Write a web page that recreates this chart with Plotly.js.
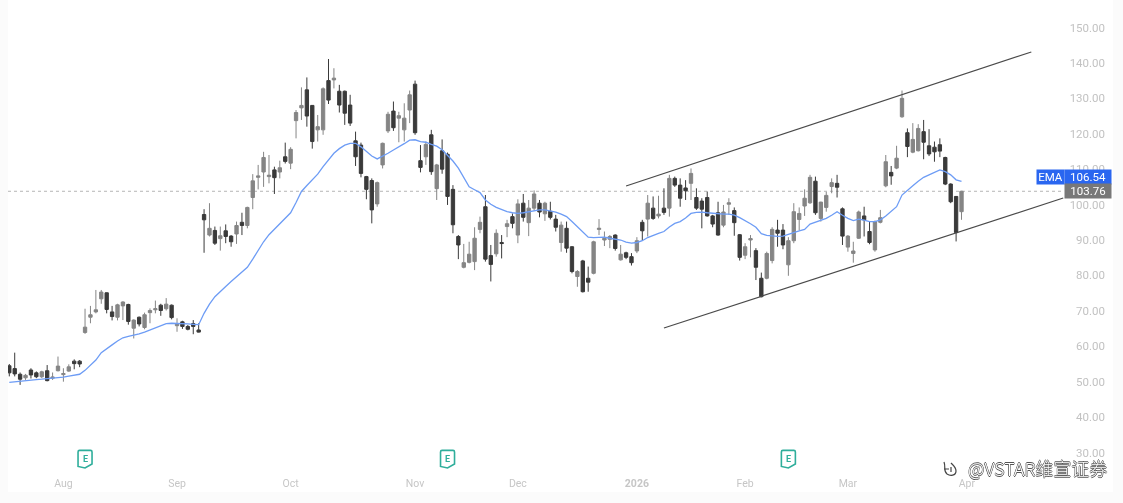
<!DOCTYPE html>
<html><head><meta charset="utf-8">
<script src="https://cdn.plot.ly/plotly-3.0.1.min.js"></script>
<style>html,body{margin:0;padding:0;background:#fbfbfb}#c{width:1123px;height:503px;filter:blur(0.35px)}</style>
</head><body><div id="c"></div>
<script>
const opens=[54.5,53.7,52.1,51.1,53.3,52.5,51.4,53.1,51,53.1,52,53,55.8,55.8,63.9,68.2,69.7,73.4,75.1,69.7,68.2,71.4,71.8,65.1,68.2,65.3,69.5,70.3,71.6,70.6,71.6,65.8,66.9,65.6,66.4,64.6,
97.2,91.4,92.7,90.4,92.6,91.1,91.7,95,94.1,102,107.7,109.2,107.9,109.8,109.2,113.5,111.7,123.7,127.3,132.4,128,121.1,121.1,135,135.2,132,132,128.1,118,116.8,107.9,106.8,100.2,111.2,120.8,126.4,124.4,121.1,126.7,134,112.4,113.5,119.7,104.5,115.2,114.2,104.3,91,
82.3,83.7,83.9,93,99.4,85.6,86.1,89.3,93.8,96.6,91.4,100.4,94.9,99,100.4,97.4,98.1,95.9,89.3,93.3,88.1,79.7,84.1,79.2,80.6,93,90,90.2,91.4,84.4,86.4,85.3,86.9,95,95.9,99,96.8,99,99,107.4,105.5,
104.7,106,102,101,102,96.8,97.7,94.2,100.1,98.3,91.5,85.7,90,87,79.2,79.2,84.2,92.8,92.8,83,89.8,95.8,99.6,100.5,106.6,96.1,99.2,105.1,106,98.8,88,86.2,90.5,96.8,92.4,87.2,95,105.3,109.1,110.3,124.8,120.3,114.8,115.2,120.6,116.6,116.2,116.9,113.3,105.8,102.3,98];
const highs=[55,58.2,52.6,52.2,53.8,52.9,53.1,54.7,52.6,57.1,53.8,54.9,56.3,56.1,70.6,71.4,75.9,75.9,75.2,71.4,72,72.7,72,67.6,68.4,69.5,70.7,72.9,72,73.6,71.8,67.9,67.2,66,67.4,66.5,
98.7,100.4,93.8,93.8,94.4,91.4,95.2,97.7,99.4,108.6,111.2,114.9,114,110.7,112.4,117.5,116.2,126.7,133.1,135.9,128.1,125.3,133.1,141.1,138.5,133.8,132.2,131,120.6,117.5,108.1,107.4,106.5,117.5,126.2,129.1,126.2,128.6,132.2,135,116.8,117.8,121.1,111.5,118.4,114.7,105.5,91.4,
88.9,89.5,93.6,96.6,102.7,88.6,93,91.4,95.7,97.5,101.5,103,101.3,104,101.3,100.8,100.8,97.1,95.2,95.2,88.3,81.5,84.4,82.5,89.8,95.9,92.4,91.4,91.6,88.6,86.7,86.3,90.8,95.7,102.7,102.3,102.5,104.6,108.4,107.9,107.4,
106.9,110.2,104.6,101.8,103.7,97.1,100.8,99.9,101.8,99.2,91.7,89.1,91.4,87.7,80.8,86.7,93.6,95.7,94.5,90.8,100.4,99.2,104.3,108.4,107.9,100.8,103.6,107.4,108.4,99.2,91.4,89.5,98.3,99.4,95.2,95.5,98.5,114,110.9,116.6,132.2,121.5,123,122.7,123.9,121.3,117.8,118.7,113.5,106,102.4,103.9];
const lows=[51.5,51.5,49.1,50.5,50.9,51,51,50.1,50.5,52.9,50,52.8,53.5,54.1,63.5,66.5,69.3,72,69.3,67.3,67.3,67.4,66.1,62.2,65.6,64.8,66.5,69.3,68.6,70.1,67.6,64.1,64.9,64.5,63.4,63.9,
86.4,91,88.6,87,89.1,88.1,88.9,91.4,93.3,98.7,104.3,105,106,103,107.4,111.6,110,118.7,123.9,122,115.8,117.8,119.7,128.4,132.8,126,122.5,122.2,110.9,107.7,101.5,94.7,99.4,110.2,120.2,120.8,117.6,117.8,123,119.7,109.1,111.2,108.4,101.3,108.7,99.9,91.9,84.6,
82,83.4,81.5,91.9,83.9,78.3,85.3,84.8,90.8,93.3,89.1,95.2,91.1,98.3,96.4,95.4,95.8,92.4,86.7,86.4,80.6,76.8,75.2,75.4,80.3,91.4,88.3,87.7,87,84.2,84.6,82.8,86.3,89.8,91,95.7,96.1,97.1,96.6,105,99.4,
101.3,101.3,98.5,93.3,96.6,93.6,91.2,93.6,97.1,91.2,84.2,84.6,85.1,78.7,73.8,78.9,83.4,88.1,87.4,79.9,89.1,92.8,96.8,100.2,97.1,95.2,98,103.2,102,88.6,86.7,83.6,90.3,91,88.8,86.7,94.7,104.9,105.6,110,124.5,113.4,114.5,115,112.8,113.7,112.1,113.4,105.5,100.4,89.6,95.7];
const closes=[52.5,52.2,50.7,51.8,51.9,51.4,52.8,50.3,51.3,54.4,52.3,54.2,55.1,55,65.4,68.9,70.3,75.3,70.4,68.4,71.7,72.5,67,67.4,66.3,68.9,70.1,70.6,70.1,71.9,68.1,66.3,65.6,64.8,65.6,64,
95.7,93.3,89.1,91.2,91,89.5,94.1,94.1,99.2,106.7,108.1,113.3,108.3,107.6,110.4,112.2,115.6,126,128,125,117.8,122,132.7,129.5,135.7,128.1,125.8,123,113.5,108.8,104.3,98.5,106.2,117.3,125.5,121.7,125.1,124.4,131,120.3,110.5,117,109.3,111.2,110,102.3,94.3,88.6,
83.6,86,90.5,95,84.6,83.1,91.9,89,94.6,94.7,100.2,96.4,99,103,97.9,100.4,96.4,93.6,94.2,87.7,81.1,81.1,75.4,78.1,89.5,93.3,90.5,91,87.6,86,85.1,83.6,89.8,92.6,100.4,96.1,97.3,97.8,107.4,105.5,101.8,
103.9,108.8,99,98.7,96.8,94.5,91.4,97.9,100.5,94.9,85.1,88.1,90.4,82.3,74,86.2,93,91.9,88.6,89.8,98,97.5,101.8,107.7,97.7,100.7,102.6,106.2,104.9,91.1,91.1,86.9,97.9,95.7,89.3,95.2,96.3,112.1,108.1,113.1,130,116.4,118.4,121.5,117.6,114.3,114.9,115.1,105.8,100.8,92.1,103.76];
const emaValues=[49.8,50,50.2,50.3,50.4,50.6,50.7,50.8,51,51.2,51.3,51.6,51.8,52.1,53.2,54.6,56.1,58.2,59.4,60.4,61.5,62.4,62.8,63.1,63.5,64,64.6,65.2,65.9,66.4,66.5,66.5,66.4,66.3,66.2,66.1,69.3,71.9,74,75.6,76.9,78.3,79.6,81,82.3,84.6,87.1,89.5,91.5,93.1,94.7,
96.2,97.7,100.6,103.7,105.4,107,108.6,110.7,112.6,114.5,115.8,116.8,117.3,117.3,116.3,115,113.7,112.9,113.6,114.5,115.4,116.2,117.2,118.2,118.3,117.8,117.6,117,116.5,115.5,114,112.3,110.3,107.5,105,
104.2,103.4,101.3,100.1,99.2,98.5,98,97.7,97.5,97.7,98,98.3,98.5,98.5,98.3,97.9,97.3,96.6,95.2,93.8,92.2,90.8,90.7,90.8,90.8,90.5,90.3,90,89.4,89.1,89.3,89.8,90.7,91.4,91.9,92.4,93.7,94.7,
95.2,96.2,97.5,97.8,97.9,97.7,97.5,97.4,97.3,97.3,97,96.3,95.5,94.6,93.6,91.8,91.3,91.1,91,91.1,91.5,92.1,92.6,93,94.5,95,95.5,96.1,97,98,97,96.1,95.5,95.9,95.6,95.2,95.2,95.7,96.8,98,99.4,102.7,104.1,105.3,106.6,107.7,108.4,109.1,109.8,109.3,108.4,107,106.54];
const upperChannelX=[114,188.9], upperChannelY=[105.25,143.08];
const lowerChannelX=[121,194.8], lowerChannelY=[65.16,101.86];
const monthIdx=[10,31,52,75,94,116,136,155,177];
const monthLabels=['Aug','Sep','Oct','Nov','Dec','<b>2026</b>','Feb','Mar','Apr'];
const priceTicks=[30,40,50,60,70,80,90,100,110,120,130,140,150];
const earningsIdx=[14,81,144];
const earningsPrice=28.2;
const lastPrice=103.76, lastEma=106.54;

const idx=opens.map((_,i)=>i);
const GREY='#858585', DARK='#3a3a3a', TEAL='#2fae9b', BLUE='#2a66f0';

const traces=[
 {type:'candlestick',x:idx,open:opens,high:highs,low:lows,close:closes,whiskerwidth:0,
  increasing:{line:{color:GREY,width:1},fillcolor:GREY},
  decreasing:{line:{color:DARK,width:1},fillcolor:DARK},hoverinfo:'skip',showlegend:false},
 {type:'scatter',mode:'lines',x:idx,y:emaValues,line:{color:'#6d9cf5',width:1.3},hoverinfo:'skip',showlegend:false},
 {type:'scatter',mode:'lines',x:upperChannelX,y:upperChannelY,line:{color:'#4a4a4a',width:1.2},hoverinfo:'skip',showlegend:false},
 {type:'scatter',mode:'lines',x:lowerChannelX,y:lowerChannelY,line:{color:'#4a4a4a',width:1.2},hoverinfo:'skip',showlegend:false}
];

const shapes=[
 {type:'line',xref:'paper',x0:0,x1:0.955,yref:'y',y0:lastPrice,y1:lastPrice,line:{color:'#b5b5b5',width:1,dash:'dot'},layer:'below'}
];
const annotations=[];
earningsIdx.forEach(i=>{
 shapes.push({type:'path',xref:'x',yref:'y',xsizemode:'pixel',ysizemode:'pixel',xanchor:i,yanchor:earningsPrice,
   path:'M -7,-7.5 L -7,7 Q -7,8.5 -5.5,8.5 L 5.5,8.5 Q 7,8.5 7,7 L 7,-5 L 0,-9 Z',
   line:{color:TEAL,width:1.6},fillcolor:'#ffffff'});
 annotations.push({x:i,y:earningsPrice,xref:'x',yref:'y',text:'<b>E</b>',showarrow:false,yshift:0,
   font:{family:'Roboto',size:9,color:TEAL}});
});
const tag=(x,y,w,h,txt,bg)=>({xref:'paper',yref:'paper',x:(x-8)/1105,y:1-y/492,xanchor:'left',yanchor:'middle',
  width:w,height:h,text:txt,showarrow:false,bgcolor:bg,borderpad:0,align:'center',font:{family:'Roboto',size:11.5,color:'#ffffff'}});
annotations.push(tag(1036,176.5,27,14,'EMA',BLUE));
annotations.push(tag(1064,176.5,46,14,lastEma.toFixed(2),BLUE));
annotations.push(tag(1064,191,46,14,lastPrice.toFixed(2),'#787878'));
annotations.push({xref:'paper',yref:'paper',x:(1109-8)/1105,y:1-468/492,xanchor:'right',yanchor:'middle',showarrow:false,
  text:'@VSTAR维宣证券',font:{family:'Noto Sans CJK SC',size:18,color:'#ffffff',weight:300,shadow:'0.6px 0 0 #555,-0.6px 0 0 #555,0 0.6px 0 #555,0 -0.6px 0 #555'}});
shapes.push({type:'path',xref:'paper',yref:'paper',xsizemode:'pixel',ysizemode:'pixel',xanchor:(950-8)/1105,yanchor:1-469/492,
  path:'M -6,7 C -4,2 -7,-2 -3,-5 C 0,-7 6,-7 6,-2 C 6,2 3,4 1,6 M -6,0 L -1,0 M 1,-3 L 1,2',line:{color:'#444',width:1.2},fillcolor:'rgba(0,0,0,0)'});

const layout={
 width:1123,height:503,margin:{l:8,r:10,t:0,b:11},
 paper_bgcolor:'#fbfbfb',plot_bgcolor:'#ffffff',hovermode:false,showlegend:false,boxgap:0.12,
 xaxis:{range:[-0.24,204],rangeslider:{visible:false},showgrid:false,zeroline:false,showline:false,
   tickmode:'array',tickvals:monthIdx,ticktext:monthLabels,ticks:'',ticklabelposition:'inside',
   tickfont:{family:'Roboto',size:10.5,color:'#c6c6c6'},tickangle:0},
 yaxis:{range:[18.86,157.76],side:'right',showgrid:false,zeroline:false,showline:false,
   tickmode:'array',tickvals:priceTicks,ticktext:priceTicks.map(v=>v.toFixed(2)),ticks:'',ticklabelposition:'inside',ticklabelstandoff:5,
   tickfont:{family:'Roboto',size:11.5,color:'#c2c2c2'}},
 shapes,annotations
};
Plotly.newPlot('c',traces,layout,{displayModeBar:false,staticPlot:true});
</script></body></html>
